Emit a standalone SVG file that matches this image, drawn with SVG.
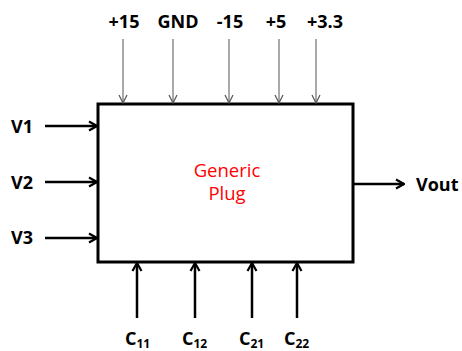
<svg xmlns="http://www.w3.org/2000/svg" width="462" height="351" viewBox="0 0 462 351">
<defs>
<marker id="thin" viewBox="0 0 10 10" refX="9" refY="5" markerWidth="10" markerHeight="10" markerUnits="userSpaceOnUse" orient="auto">
<path d="M1,1 L9,5 L1,9" fill="none" stroke="#555" stroke-width="1.2"/>
</marker>
<marker id="thick" viewBox="0 0 10 10" refX="9" refY="5" markerWidth="10" markerHeight="12" markerUnits="userSpaceOnUse" orient="auto">
<path d="M1,0.5 L9,5 L1,9.5" fill="none" stroke="#000" stroke-width="2.2"/>
</marker>
</defs>
<style>
.lbl{font-family:"Open Sans","Liberation Sans",sans-serif;font-weight:bold;font-size:18px;fill:#000}
.thin{stroke:#555;stroke-width:1;fill:none;marker-end:url(#thin)}
.thick{stroke:#000;stroke-width:2.5;fill:none;marker-end:url(#thick)}
.red{font-family:"Open Sans","Liberation Sans",sans-serif;font-size:18.5px;fill:#ff0000}
</style>
<rect width="462" height="351" fill="#fff"/>
<g id="plug">
<rect x="98" y="104" width="255" height="158" fill="#fff" stroke="#000" stroke-width="3"/>
<text class="red" x="227" y="177" text-anchor="middle">Generic</text>
<text class="red" x="227" y="200" text-anchor="middle">Plug</text>
</g>
<g id="labels-top">
<text class="lbl" x="124" y="28" text-anchor="middle">+15</text>
<text class="lbl" x="178" y="28" text-anchor="middle">GND</text>
<text class="lbl" x="230" y="28" text-anchor="middle">-15</text>
<text class="lbl" x="276" y="28" text-anchor="middle">+5</text>
<text class="lbl" x="325" y="28" text-anchor="middle">+3.3</text>
</g>
<g id="labels-left">
<text class="lbl" x="11" y="133">V1</text>
<text class="lbl" x="11" y="189">V2</text>
<text class="lbl" x="11" y="244">V3</text>
</g>
<g id="label-vout">
<text class="lbl" x="416" y="191">Vout</text>
</g>
<g id="labels-bottom">
<text class="lbl" x="125" y="345">C<tspan font-size="12" dy="3">11</tspan></text>
<text class="lbl" x="182" y="345">C<tspan font-size="12" dy="3">12</tspan></text>
<text class="lbl" x="239" y="345">C<tspan font-size="12" dy="3">21</tspan></text>
<text class="lbl" x="284" y="345">C<tspan font-size="12" dy="3">22</tspan></text>
</g>
<g id="connectors">
<line class="thin" x1="123" y1="39" x2="123" y2="103"/>
<line class="thin" x1="173" y1="39" x2="173" y2="103"/>
<line class="thin" x1="229" y1="39" x2="229" y2="103"/>
<line class="thin" x1="279" y1="39" x2="279" y2="103"/>
<line class="thin" x1="316" y1="39" x2="316" y2="103"/>
<line class="thick" x1="45" y1="126" x2="97" y2="126"/>
<line class="thick" x1="45" y1="182" x2="97" y2="182"/>
<line class="thick" x1="45" y1="238" x2="97" y2="238"/>
<line class="thick" x1="354" y1="184" x2="404" y2="184"/>
<line class="thick" x1="137" y1="318" x2="137" y2="263"/>
<line class="thick" x1="195" y1="318" x2="195" y2="263"/>
<line class="thick" x1="252" y1="318" x2="252" y2="263"/>
<line class="thick" x1="297" y1="318" x2="297" y2="263"/>
</g>
</svg>
